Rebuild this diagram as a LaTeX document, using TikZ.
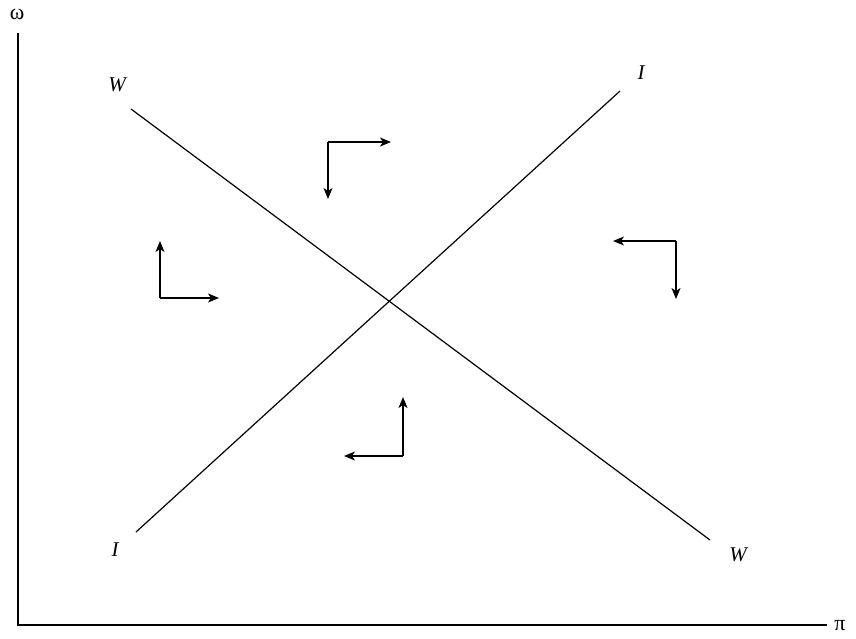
\documentclass[tikz,border=0pt]{standalone}
\usepackage{fontspec}
\setmainfont{Liberation Serif}
\usetikzlibrary{arrows.meta}
\begin{document}
\begin{tikzpicture}[x=1pt,y=-1pt,
  axis/.style={line width=1.1pt},
  curve/.style={line width=1.2pt},
  flow/.style={line width=1.5pt,-{Stealth[length=11pt,width=9pt,inset=3pt]}},
  lbl/.style={font=\fontsize{21}{21}\selectfont\itshape, inner sep=0pt},
  axlbl/.style={font=\fontsize{22}{22}\selectfont, inner sep=0pt}]
\useasboundingbox (0,0) rectangle (856,638);
% axes
\coordinate (O) at (18,625);
\coordinate (Ytop) at (18,33);
\coordinate (Xend) at (827,625);
\draw[axis] (Ytop) -- (O) -- (Xend);
\node[axlbl] (omega) at (17,14) {ω};
\node[axlbl] (pi) at (840,626) {π};
% lines
\coordinate (W1) at (131,109);
\coordinate (W2) at (710,540);
\coordinate (I1) at (136,532);
\coordinate (I2) at (620,91);
\draw[curve] (W1) -- (W2);
\draw[curve] (I1) -- (I2);
\node[lbl] (lW1) at (117,85) {W};
\node[lbl] (lI2) at (641,73) {I};
\node[lbl] (lI1) at (115,550) {I};
\node[lbl] (lW2) at (738,555) {W};
% flow arrows
\coordinate (cL) at (160,298);
\coordinate (cLu) at (160,241);
\coordinate (cLr) at (219,298);
\draw[flow] (cL) -- (cLu);
\draw[flow] (cL) -- (cLr);
\coordinate (cT) at (328,142);
\coordinate (cTr) at (391,142);
\coordinate (cTd) at (328,199);
\draw[flow] (cT) -- (cTr);
\draw[flow] (cT) -- (cTd);
\coordinate (cR) at (676,241);
\coordinate (cRl) at (613,241);
\coordinate (cRd) at (676,299);
\draw[flow] (cR) -- (cRl);
\draw[flow] (cR) -- (cRd);
\coordinate (cB) at (403,456);
\coordinate (cBu) at (403,397);
\coordinate (cBl) at (344,456);
\draw[flow] (cB) -- (cBu);
\draw[flow] (cB) -- (cBl);
\end{tikzpicture}
\end{document}
